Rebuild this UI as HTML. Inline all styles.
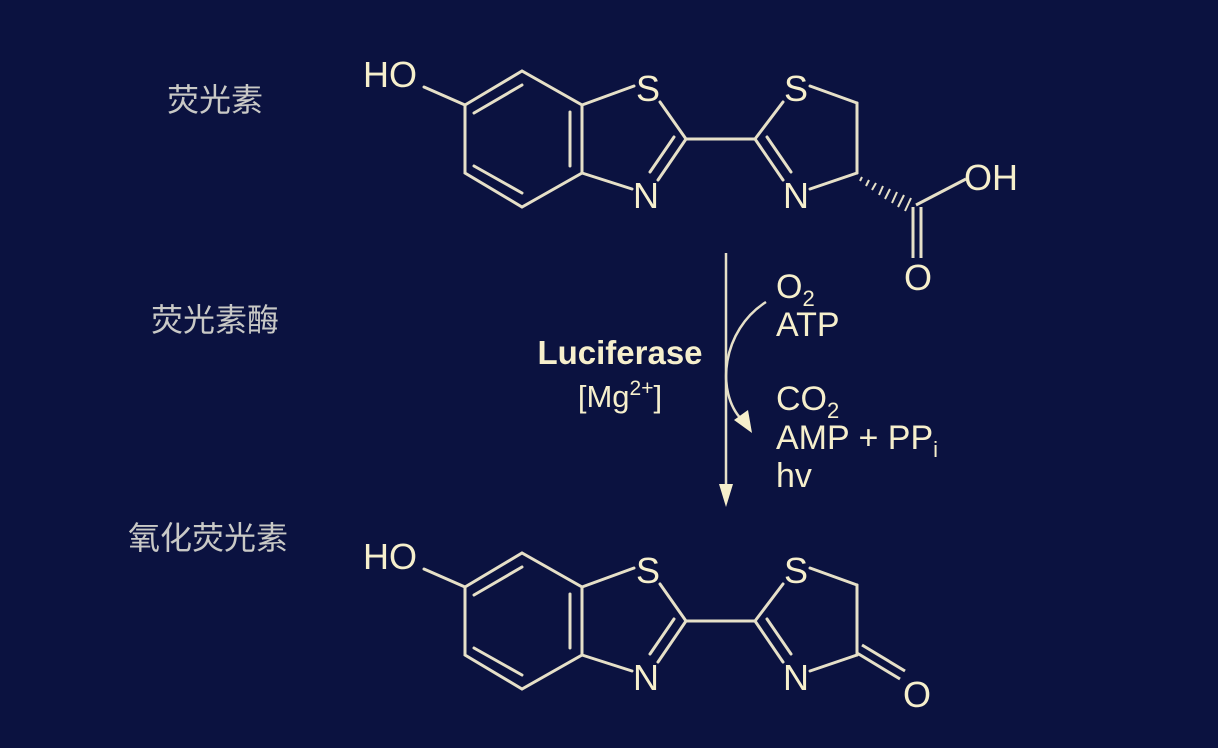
<!DOCTYPE html>
<html><head><meta charset="utf-8"><style>
html,body{margin:0;padding:0;background:#0b1240;}
svg{display:block}
.t{font-family:"Liberation Sans",Arial,sans-serif;fill:#f6efcc;}
.c{font-family:"Liberation Sans","Noto Sans CJK SC",sans-serif;fill:#c9c9c6;font-size:32px;}
</style></head><body>
<svg width="1218" height="748" viewBox="0 0 1218 748" xmlns="http://www.w3.org/2000/svg">
<rect width="1218" height="748" fill="#0b1240"/>
<defs>
<g id="core" stroke="#e6e0c8" stroke-width="3" fill="none" stroke-linecap="round">
  <line x1="424" y1="87" x2="465" y2="105"/>
  <polyline points="465,105 522,71 582,105 582,173 522,207 465,173 465,105"/>
  <line x1="474" y1="113" x2="522" y2="85"/>
  <line x1="474" y1="166" x2="522" y2="193"/>
  <line x1="570" y1="112" x2="570" y2="166"/>
  <line x1="582" y1="105" x2="634" y2="86"/>
  <line x1="660" y1="102" x2="686" y2="139"/>
  <line x1="686" y1="139" x2="658" y2="180"/>
  <line x1="674" y1="137" x2="650" y2="172"/>
  <line x1="582" y1="173" x2="632" y2="189"/>
  <line x1="686" y1="139" x2="755" y2="139"/>
  <line x1="755" y1="139" x2="783" y2="102"/>
  <line x1="755" y1="139" x2="783" y2="180"/>
  <line x1="767" y1="137" x2="791" y2="172"/>
  <line x1="810" y1="86" x2="857" y2="103"/>
  <line x1="857" y1="103" x2="857" y2="173"/>
  <line x1="857" y1="173" x2="810" y2="189"/>
</g>
</defs>
<use href="#core"/>
<g class="t" font-size="36" text-anchor="middle">
  <text x="390" y="87">HO</text>
  <text x="648" y="101">S</text>
  <text x="646" y="208">N</text>
  <text x="796" y="101">S</text>
  <text x="796" y="208">N</text>
  <text x="991" y="190">OH</text>
  <text x="918" y="290">O</text>
</g>
<g stroke="#e6e0c8" stroke-width="2" fill="none">
  <line x1="862" y1="177" x2="860" y2="181"/>
  <line x1="869" y1="180" x2="866" y2="186"/>
  <line x1="876" y1="183" x2="872" y2="190"/>
  <line x1="883" y1="186" x2="879" y2="195"/>
  <line x1="890" y1="189" x2="885" y2="199"/>
  <line x1="897" y1="192" x2="892" y2="203"/>
  <line x1="904" y1="195" x2="898" y2="207"/>
  <line x1="911" y1="198" x2="905" y2="211"/>
</g>
<g stroke="#e6e0c8" stroke-width="3" fill="none">
  <line x1="916" y1="205" x2="966" y2="179"/>
  <line x1="913" y1="207" x2="913" y2="258"/>
  <line x1="921" y1="207" x2="921" y2="258"/>
</g>
<g transform="translate(0,482)">
  <use href="#core"/>
  <g class="t" font-size="36" text-anchor="middle">
    <text x="390" y="87">HO</text>
    <text x="648" y="101">S</text>
    <text x="646" y="208">N</text>
    <text x="796" y="101">S</text>
    <text x="796" y="208">N</text>
    <text x="917" y="225">O</text>
  </g>
  <g stroke="#e6e0c8" stroke-width="3">
    <line x1="857" y1="171" x2="900" y2="197"/>
    <line x1="862" y1="163" x2="905" y2="189"/>
  </g>
</g>
<g stroke="#e6e0c8" stroke-width="2.5" fill="none">
  <line x1="726" y1="253" x2="726" y2="488"/>
  <path d="M766 302 C 722 330, 715 392, 742 420"/>
</g>
<polygon points="719,484 733,484 726,507" fill="#f6efcc"/>
<polygon points="734,420 748,410 752,433" fill="#f6efcc"/>
<g class="t" font-size="34">
  <text x="776" y="298">O<tspan font-size="22" dy="8">2</tspan></text>
  <text x="776" y="336">ATP</text>
  <text x="776" y="410">CO<tspan font-size="22" dy="8">2</tspan></text>
  <text x="776" y="449">AMP + PP<tspan font-size="22" dy="8">i</tspan></text>
  <text x="776" y="487">hv</text>
  <text x="620" y="364" font-weight="bold" text-anchor="middle" font-size="33">Luciferase</text>
  <text x="620" y="407" text-anchor="middle" font-size="31">[Mg<tspan font-size="21" dy="-12">2+</tspan><tspan dy="12">]</tspan></text>
</g>
<text class="c" x="167" y="111">荧光素</text>
<text class="c" x="151" y="331">荧光素酶</text>
<text class="c" x="128" y="549">氧化荧光素</text>
</svg>
</body></html>
